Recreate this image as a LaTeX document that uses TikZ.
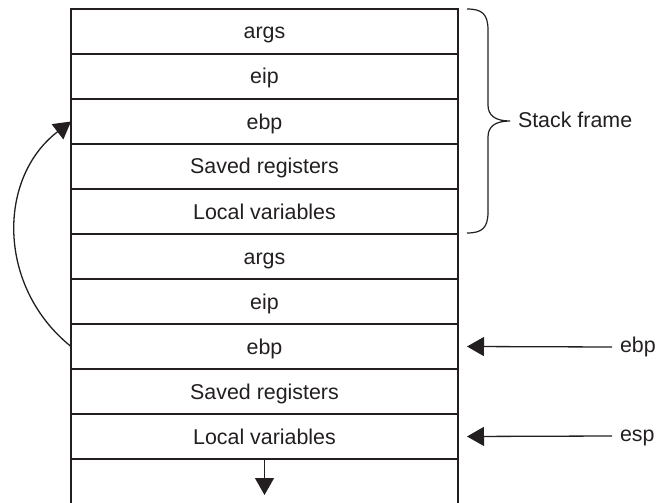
\documentclass[tikz,border=0pt]{standalone}
\usepackage{fontspec}
\setmainfont{Liberation Sans}
\usetikzlibrary{arrows.meta}
\definecolor{ink}{HTML}{231F20}
\begin{document}
\begin{tikzpicture}[x=1pt,y=-1pt,
  cell/.style={draw=ink, line width=1.5pt, minimum width=387pt, minimum height=45pt,
    inner sep=0pt, outer sep=0pt, text height=15pt, text depth=0pt, text=ink,
    font=\fontsize{21.4}{25}\selectfont},
  lbl/.style={inner sep=0pt, outer sep=0pt, text=ink, font=\fontsize{21.4}{25}\selectfont},
  arr/.style={draw=ink, line width=1.3pt, -{Triangle[length=17pt,width=19pt]}},
  edge/.style={draw=ink, line width=1.3pt}]
\useasboundingbox (0,0) rectangle (657,503);
\fill[white] (0,0) rectangle (657,503);
% stack cells
\node[cell] (r1) at (264.5,31.5) {args};
\node[cell] (r2) at (264.5,76.5) {eip};
\node[cell] (r3) at (264.5,121.5) {ebp};
\node[cell] (r4) at (264.5,166.5) {Saved registers};
\node[cell] (r5) at (264.5,211.5) {Local variables};
\node[cell] (r6) at (264.5,256.5) {args};
\node[cell] (r7) at (264.5,301.5) {eip};
\node[cell] (r8) at (264.5,346.5) {ebp};
\node[cell] (r9) at (264.5,391.5) {Saved registers};
\node[cell] (r10) at (264.5,436.5) {Local variables};
% open bottom
\coordinate (bl) at (71,503);
\coordinate (br) at (458,503);
\draw[edge] (r10.south west) -- (bl);
\draw[edge] (r10.south east) -- (br);
\coordinate (down) at (264.5,495);
\draw[arr] (r10.south) -- (down);
% brace
\draw[draw=ink, line width=1.2pt] (467,9) .. controls (482,9) and (488,14) .. (488,30)
  -- (488,105) .. controls (488,116) and (496,121) .. (510,121)
  .. controls (496,121) and (488,126) .. (488,137)
  -- (488,212) .. controls (488,228) and (482,233) .. (467,233);
\node[lbl, anchor=base west] (sf) at (518,128) {Stack frame};
% pointers
\node[lbl, anchor=base west] (ebpT) at (620,352.5) {ebp};
\node[lbl, anchor=base west] (espT) at (620,441.5) {esp};
\draw[arr] ([xshift=-8pt,yshift=5.5pt]ebpT.base west) -- ([xshift=9pt]r8.east);
\draw[arr] ([xshift=-8pt,yshift=5.5pt]espT.base west) -- ([xshift=9pt]r10.east);
% saved ebp link
\draw[arr] (r8.west) .. controls (-3,287) and (-3,178) .. (r3.west);
\end{tikzpicture}
\end{document}
